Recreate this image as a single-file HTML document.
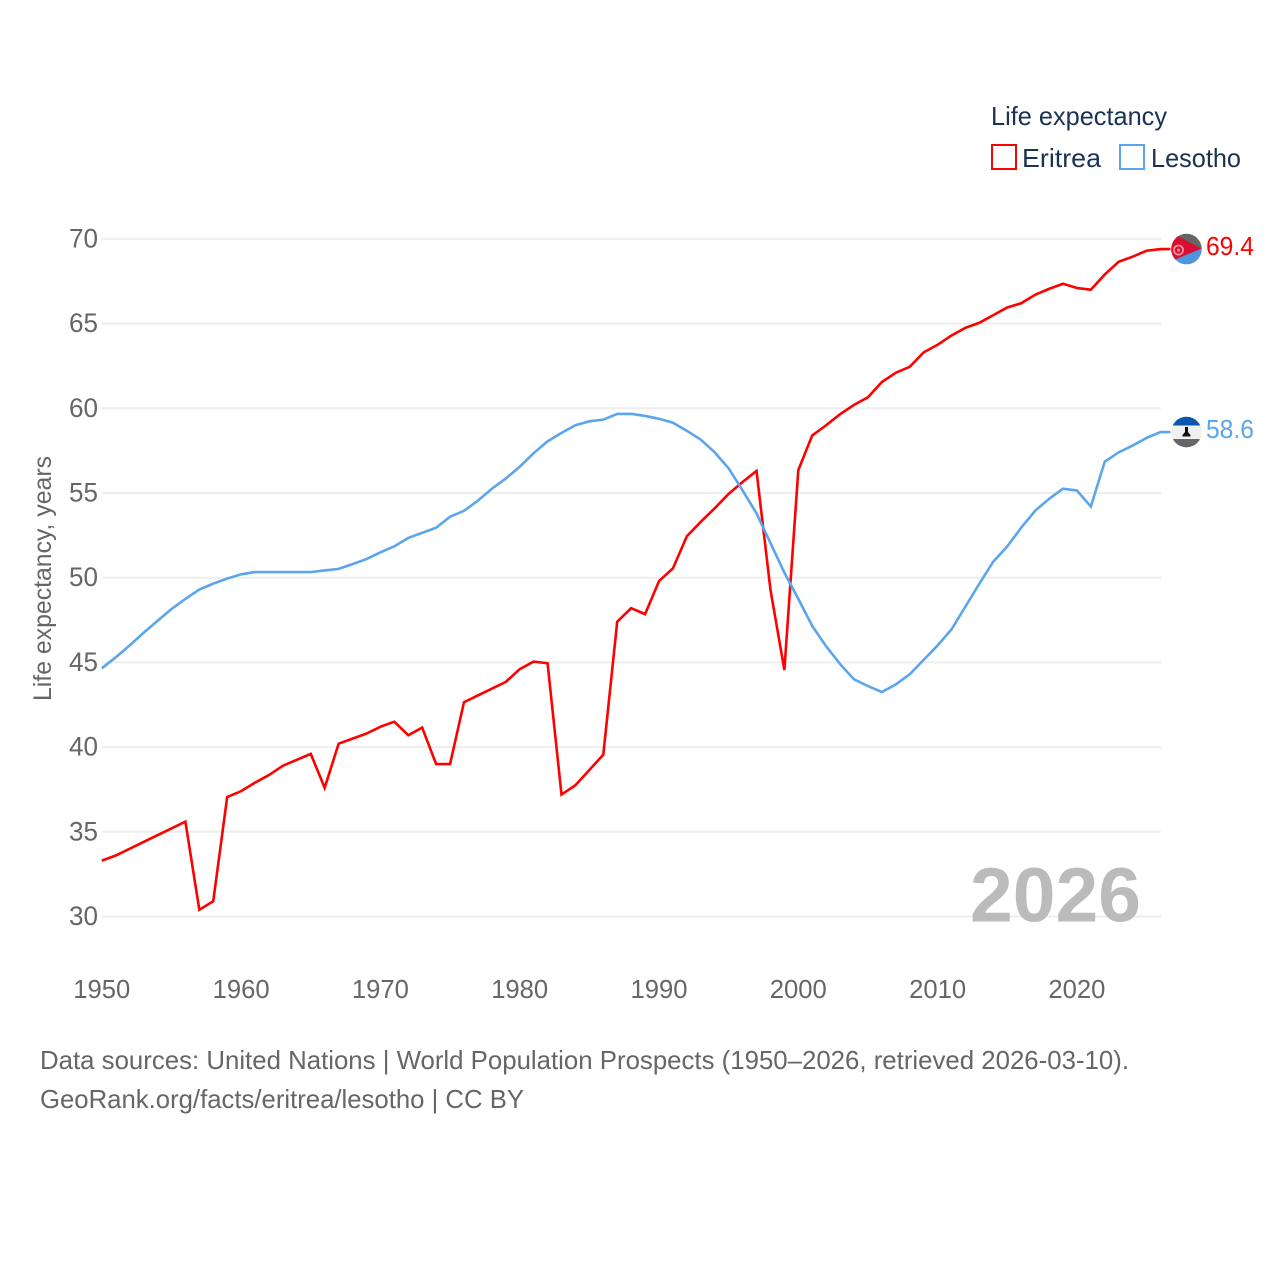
<!DOCTYPE html>
<html lang="en">
<head>
<meta charset="utf-8">
<title>Life expectancy: Eritrea and Lesotho</title>
<style>
html,body{margin:0;padding:0;background:#fff;}
svg{display:block;font-family:"Liberation Sans",sans-serif;}
</style>
</head>
<body>
<svg id="chart" xmlns="http://www.w3.org/2000/svg" width="1280" height="1280" viewBox="0 0 1280 1280">
  <rect x="0" y="0" width="1280" height="1280" fill="#fff"/>
  <defs>
    <clipPath id="flag-clip"><circle cx="0" cy="0" r="15.3"/></clipPath>
  </defs>
  <g id="grid"></g>
  <g id="y-ticks"></g>
  <g id="x-ticks"></g>
  <text transform="translate(51,701) rotate(-90)" font-size="25" fill="#666" textLength="245" lengthAdjust="spacingAndGlyphs">Life expectancy, years</text>
  <text x="970" y="921.5" font-size="77" font-weight="700" fill="#bbb" textLength="171" lengthAdjust="spacingAndGlyphs">2026</text>
  <g id="series"></g>
  <g>
    <text x="991" y="125" font-size="26" fill="#1a3353" textLength="176" lengthAdjust="spacingAndGlyphs">Life expectancy</text>
    <g>
      <rect x="992" y="145" width="24" height="24" fill="#fff" stroke="#ff0000" stroke-width="2"/>
      <text x="1022" y="167" font-size="26" fill="#1a3353" textLength="79" lengthAdjust="spacingAndGlyphs">Eritrea</text>
    </g>
    <g>
      <rect x="1120" y="145" width="24" height="24" fill="#fff" stroke="#5ba5ee" stroke-width="2"/>
      <text x="1151" y="167" font-size="26" fill="#1a3353" textLength="90" lengthAdjust="spacingAndGlyphs">Lesotho</text>
    </g>
  </g>
  <g>
    <text x="40" y="1069" font-size="26" fill="#666" textLength="1089" lengthAdjust="spacingAndGlyphs">Data sources: United Nations | World Population Prospects (1950–2026, retrieved 2026-03-10).</text>
    <text x="40" y="1108" font-size="26" fill="#666" textLength="484" lengthAdjust="spacingAndGlyphs">GeoRank.org/facts/eritrea/lesotho | CC BY</text>
  </g>
</svg>
<script>
const startYear = 1950;
const eritreaValues = [33.3,33.6,34.0,34.4,34.8,35.2,35.6,30.4,30.9,37.05,37.4,37.9,38.35,38.9,39.25,39.6,37.6,40.2,40.5,40.8,41.2,41.5,40.7,41.15,39.0,39.0,42.65,43.05,43.45,43.85,44.6,45.05,44.95,37.2,37.75,38.65,39.55,47.4,48.2,47.85,49.8,50.55,52.45,53.3,54.1,54.95,55.65,56.3,49.3,44.55,56.35,58.4,59.0,59.65,60.2,60.65,61.55,62.1,62.45,63.3,63.75,64.3,64.75,65.05,65.5,65.95,66.2,66.7,67.05,67.35,67.1,67.0,67.9,68.65,68.95,69.3,69.4];
const lesothoValues = [44.65,45.3,46.0,46.75,47.45,48.15,48.75,49.3,49.65,49.95,50.2,50.33,50.33,50.33,50.33,50.33,50.43,50.52,50.8,51.1,51.5,51.85,52.35,52.65,52.95,53.6,53.95,54.55,55.25,55.85,56.55,57.35,58.05,58.55,59.0,59.23,59.33,59.67,59.67,59.55,59.38,59.15,58.67,58.15,57.4,56.45,55.15,53.8,52.05,50.3,48.75,47.15,45.95,44.9,44.0,43.6,43.25,43.7,44.3,45.15,46.0,46.95,48.3,49.65,50.95,51.85,52.95,53.95,54.65,55.25,55.15,54.2,56.85,57.4,57.8,58.25,58.6];
const yTickLabels = [30,35,40,45,50,55,60,65,70];
const xTickLabels = [1950,1960,1970,1980,1990,2000,2010,2020];
const eritreaLabel = "69.4";
const lesothoLabel = "58.6";

const NS = "http://www.w3.org/2000/svg";
const xAxis = year => 101.8 + (year - 1950) * 13.93;
const yAxis = value => 916.5 - (value - 30) * 16.94;

function make(tag, attrs, parent) {
  const el = document.createElementNS(NS, tag);
  for (const k in attrs) el.setAttribute(k, attrs[k]);
  parent.appendChild(el);
  return el;
}

const grid = document.getElementById("grid");
const yTicks = document.getElementById("y-ticks");
const xTicks = document.getElementById("x-ticks");
const series = document.getElementById("series");

yTickLabels.forEach(v => {
  const line = make("line", {x1: 102, x2: 1161, y1: yAxis(v), y2: yAxis(v), stroke: "#eeeeee", "stroke-width": 2}, grid);
  
  
  const t = make("text", {x: 98, y: yAxis(v) + 8.5, "text-anchor": "end", "font-size": 26.5, fill: "#666", textLength: 29, lengthAdjust: "spacingAndGlyphs"}, yTicks);
  t.textContent = v;
  
  
});

xTickLabels.forEach(v => {
  const t = make("text", {x: xAxis(v), y: 998, "text-anchor": "middle", "font-size": 26, fill: "#666", textLength: 57, lengthAdjust: "spacingAndGlyphs"}, xTicks);
  t.textContent = v;
  
  
});

function pathFor(values) {
  return values.map((v, i) => (i ? "L" : "M") + xAxis(startYear + i).toFixed(2) + " " + yAxis(v).toFixed(2)).join("");
}

function drawSeries(values, color, name, label) {
  const g = make("g", {}, series);
  
  
  const last = values[values.length - 1];
  const ex = xAxis(startYear + values.length - 1);
  const ey = yAxis(last);
  const p = make("path", {d: pathFor(values) + "L" + (ex + 10) + " " + ey, fill: "none", stroke: color, "stroke-width": 2.6, "stroke-linejoin": "miter", "stroke-miterlimit": 4}, g);
  
  
  const flag = make("g", {transform: "translate(" + (ex + 26) + "," + ey + ")", "clip-path": "url(#flag-clip)"}, g);
  
  
  const t = make("text", {x: ex + 45.5, y: ey + 6, "font-size": 26, fill: color, textLength: 48, lengthAdjust: "spacingAndGlyphs"}, g);
  t.textContent = label;
  
  
  return flag;
}

const eritreaFlag = drawSeries(eritreaValues, "#ff0000", "eritrea", eritreaLabel);
make("rect", {x: -17, y: -17, width: 34, height: 17, fill: "#666666"}, eritreaFlag);
make("rect", {x: -17, y: 0, width: 34, height: 17, fill: "#4f96e0"}, eritreaFlag);
make("polygon", {points: "-20,-19 15,-0.5 -20,14", fill: "#d90f32"}, eritreaFlag);
make("circle", {cx: -8, cy: 1, r: 4.6, fill: "none", stroke: "#f2909a", "stroke-width": 1.8}, eritreaFlag);
make("circle", {cx: -8, cy: 1, r: 1.5, fill: "#f2909a"}, eritreaFlag);

const lesothoFlag = drawSeries(lesothoValues, "#5ba5ee", "lesotho", lesothoLabel);
make("rect", {x: -17, y: -17, width: 34, height: 10.5, fill: "#0a56b0"}, lesothoFlag);
make("rect", {x: -17, y: -6.5, width: 34, height: 13.5, fill: "#f0f0f0"}, lesothoFlag);
make("rect", {x: -17, y: 7, width: 34, height: 10, fill: "#666666"}, lesothoFlag);
make("polygon", {points: "-1.5,-5 1.5,-5 1.5,0 4,3 4,4.5 -4,4.5 -4,3 -1.5,0", fill: "#111"}, lesothoFlag);
</script>
</body>
</html>
